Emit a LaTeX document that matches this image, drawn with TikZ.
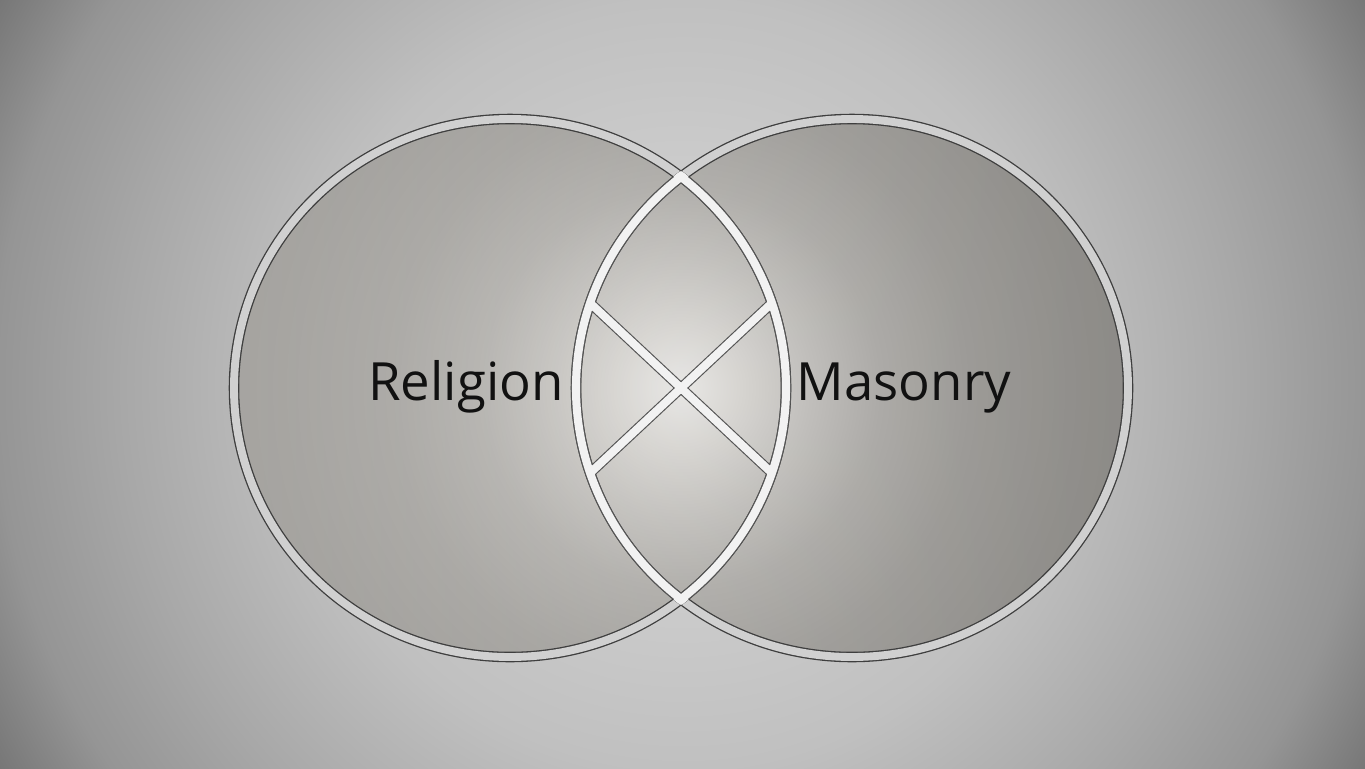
\documentclass[tikz,border=0pt]{standalone}
\usepackage{fontspec}
\setmainfont{Open Sans}
\usetikzlibrary{calc}
\definecolor{ringdark}{HTML}{3E3E3E}
\definecolor{ringlight}{HTML}{D0D0D0}
\definecolor{lensdark}{HTML}{555555}
\definecolor{lenslight}{HTML}{F2F2F2}
\definecolor{txt}{HTML}{111111}
\definecolor{bg0}{HTML}{D4D4D4}
\definecolor{bg1}{HTML}{CDCDCD}
\definecolor{bg2}{HTML}{C0C0C0}
\definecolor{bg3}{HTML}{A8A8A8}
\definecolor{bg4}{HTML}{959595}
\definecolor{bg5}{HTML}{727272}
\definecolor{g0}{HTML}{F4F3F1}
\definecolor{g1}{HTML}{E2E0DC}
\definecolor{g2}{HTML}{CCCAC6}
\definecolor{g3}{HTML}{B8B6B2}
\definecolor{g4}{HTML}{A9A7A3}
\definecolor{g5}{HTML}{9F9D99}
\definecolor{g6}{HTML}{999793}
\pgfdeclareradialshading{bgshade}{\pgfpoint{0bp}{0bp}}{%
  color(0bp)=(bg0);
  color(6bp)=(bg1);
  color(12bp)=(bg2);
  color(17.5bp)=(bg3);
  color(21.5bp)=(bg4);
  color(25bp)=(bg5);
  color(50bp)=(bg5)}
\pgfdeclareradialshading{glow}{\pgfpoint{0bp}{0bp}}{%
  color(0bp)=(g0);
  color(3bp)=(g1);
  color(6.5bp)=(g2);
  color(10bp)=(g3);
  color(14.5bp)=(g4);
  color(20bp)=(g5);
  color(25bp)=(g6);
  color(50bp)=(g6)}
\tikzset{
  ringdk/.style={draw=ringdark, line width=6pt},
  ringlt/.style={draw=ringlight, line width=4.5pt},
  lensdk/.style={draw=lensdark, line width=5.9pt},
  lenslt/.style={draw=lenslight, line width=4.6pt},
  label/.style={text=txt, font=\fontsize{30}{36}\selectfont, inner sep=0pt, anchor=base}
}
\begin{document}
\begin{tikzpicture}[x=0.02cm, y=-0.02cm]
\useasboundingbox (0,0) rectangle (1365,768);
% background
\begin{scope}
  \clip (0,0) rectangle (1365,768);
  \shade[shading=bgshade] (-117,-416) rectangle (1483,1184);
\end{scope}
% coordinates
\coordinate (L) at (510,388);
\coordinate (R) at (852,388);
\coordinate (C) at (681,388);
\coordinate (x1) at (590.1,303);
\coordinate (x2) at (771.9,473);
\coordinate (x3) at (771.9,303);
\coordinate (x4) at (590.1,473);
% fills
\begin{scope}
  \clip (L) ellipse [x radius=276, y radius=269] (R) ellipse [x radius=276, y radius=269];
  \shade[shading=glow] (181,-112) rectangle (1181,888);
  \shade[left color=white, right color=black, fill opacity=0.10] (230,100) rectangle (1135,680);
\end{scope}
% outer rings
\draw[ringdk] (L) ellipse [x radius=276, y radius=269];
\draw[ringdk] (R) ellipse [x radius=276, y radius=269];
\draw[ringlt] (L) ellipse [x radius=276, y radius=269];
\draw[ringlt] (R) ellipse [x radius=276, y radius=269];
% lens: dark pass
\begin{scope}
  \clip (R) ellipse [x radius=281, y radius=274];
  \draw[lensdk] (L) ellipse [x radius=276, y radius=269];
\end{scope}
\begin{scope}
  \clip (L) ellipse [x radius=281, y radius=274];
  \draw[lensdk] (R) ellipse [x radius=276, y radius=269];
\end{scope}
\draw[lensdk] (x1) -- (x2);
\draw[lensdk] (x3) -- (x4);
% lens: light pass
\begin{scope}
  \clip (R) ellipse [x radius=281, y radius=274];
  \draw[lenslt] (L) ellipse [x radius=276, y radius=269];
\end{scope}
\begin{scope}
  \clip (L) ellipse [x radius=281, y radius=274];
  \draw[lenslt] (R) ellipse [x radius=276, y radius=269];
\end{scope}
\draw[lenslt] (x1) -- (x2);
\draw[lenslt] (x3) -- (x4);
% labels
\node[label] (religion) at (466,400) {Religion};
\node[label] (masonry) at (904,400) {Masonry};
\end{tikzpicture}
\end{document}
